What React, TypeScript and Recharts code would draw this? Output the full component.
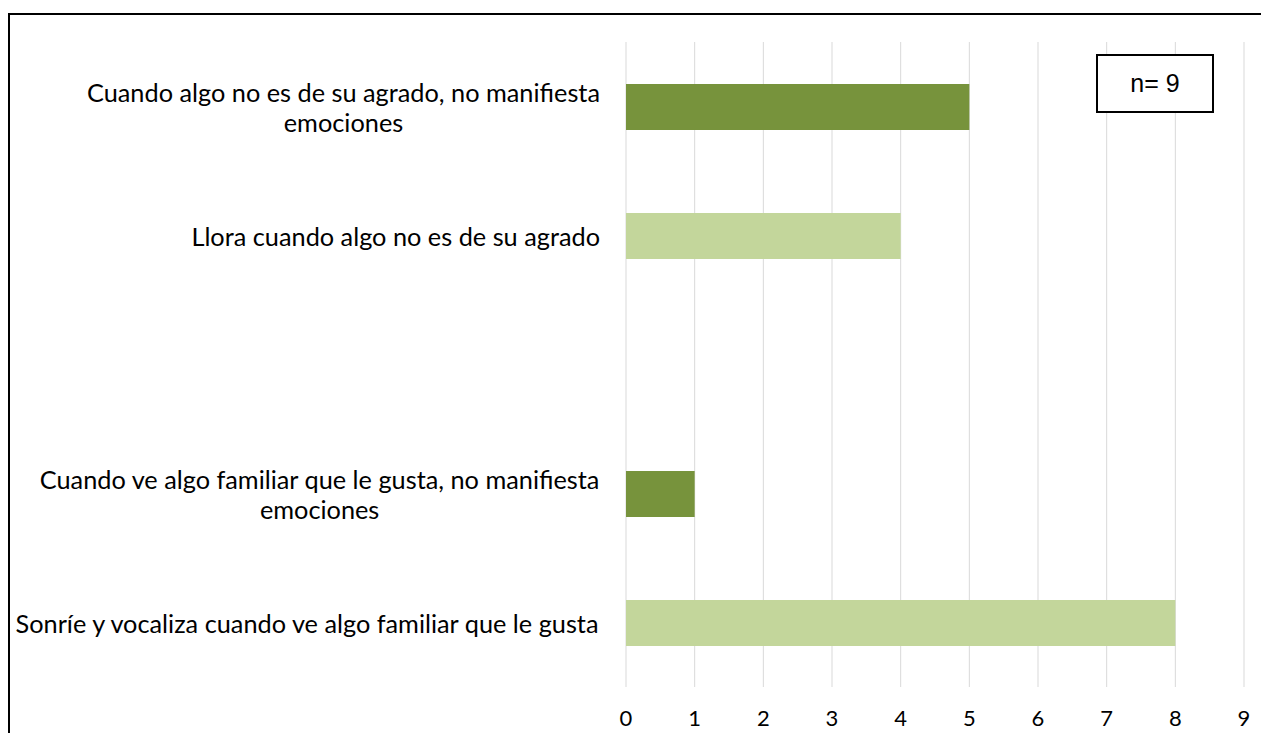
import React from "react";
import { BarChart, Bar, XAxis, YAxis, CartesianGrid, Cell } from "recharts";

// ---- data ----
const categoryLines: string[][] = [
  ["Cuando algo no es de su agrado, no manifiesta", "emociones"],
  ["Llora cuando algo no es de su agrado"],
  [""],
  ["Cuando ve algo familiar que le gusta, no manifiesta", "emociones"],
  ["Sonríe y vocaliza cuando ve algo familiar que le gusta"],
];
const categories: string[] = categoryLines.map((l) => l.join(" "));
const values: (number | null)[] = [5, 4, null, 1, 8];
const barColors: string[] = ["#77933C", "#C3D69B", "#C3D69B", "#77933C", "#C3D69B"];
const xTicks: number[] = [0, 1, 2, 3, 4, 5, 6, 7, 8, 9];
const sampleNote = "n= 9";

const data = categories.map((name, i) => ({ name, value: values[i] }));

const FONT = "Lato, 'Open Sans', sans-serif";
const LABEL_SIZE = 25.3;
const LINE_H = 30;

let ctx: CanvasRenderingContext2D | null = null;
function measure(text: string): number {
  if (!ctx) {
    const c = document.createElement("canvas");
    ctx = c.getContext("2d");
  }
  if (!ctx) return text.length * LABEL_SIZE * 0.5;
  ctx.font = `${LABEL_SIZE}px Lato`;
  return ctx.measureText(text).width;
}

const CategoryTick = (props: any) => {
  const { x, y, payload } = props;
  const idx = categories.indexOf(payload.value);
  const lines = idx >= 0 ? categoryLines[idx] : [String(payload.value)];
  const maxW = Math.max(...lines.map(measure));
  const cx = x - maxW / 2;
  const startY = y - ((lines.length - 1) * LINE_H) / 2;
  return (
    <g>
      {lines.map((ln, i) => (
        <text
          key={i}
          x={cx}
          y={startY + i * LINE_H}
          textAnchor="middle"
          dominantBaseline="central"
          fontFamily={FONT}
          fontSize={LABEL_SIZE}
          fill="#000"
        >
          {ln}
        </text>
      ))}
    </g>
  );
};

export default function App() {
  return (
    <div
      style={{
        position: "relative",
        margin: -8,
        width: 1269,
        height: 741,
        overflow: "hidden",
        background: "#fff",
      }}
    >
      <div
        style={{
          position: "absolute",
          left: 8,
          top: 13,
          width: 1290,
          height: 760,
          borderTop: "2px solid #000",
          borderLeft: "2px solid #000",
          boxSizing: "border-box",
        }}
      />
      <div style={{ position: "absolute", left: 8, top: 8 }}>
        <BarChart
          width={1261}
          height={733}
          data={data}
          layout="vertical"
          margin={{ top: 34, right: 25, bottom: 24, left: 8 }}
        >
          <CartesianGrid horizontal={false} vertical={true} stroke="#d9d9d9" strokeWidth={1} />
          <XAxis
            type="number"
            domain={[0, 9]}
            ticks={xTicks}
            interval={0}
            axisLine={false}
            tickLine={false}
            tickMargin={17}
            height={30}
            tick={{ fill: "#000", fontSize: 22, fontFamily: FONT }}
          />
          <YAxis
            type="category"
            dataKey="name"
            width={610}
            axisLine={false}
            tickLine={false}
            tickMargin={20}
            interval={0}
            tick={<CategoryTick />}
          />
          <Bar dataKey="value" barSize={46} isAnimationActive={false}>
            {data.map((d, i) => (
              <Cell key={i} fill={barColors[i]} />
            ))}
          </Bar>
        </BarChart>
      </div>
      <div
        style={{
          position: "absolute",
          left: 1096,
          top: 54,
          width: 118,
          height: 59,
          border: "2px solid #000",
          boxSizing: "border-box",
          background: "#fff",
          display: "flex",
          alignItems: "center",
          justifyContent: "center",
          fontFamily: "'Liberation Sans', Arial, sans-serif",
          fontSize: 25,
          color: "#000",
        }}
      >
        {sampleNote}
      </div>
    </div>
  );
}
